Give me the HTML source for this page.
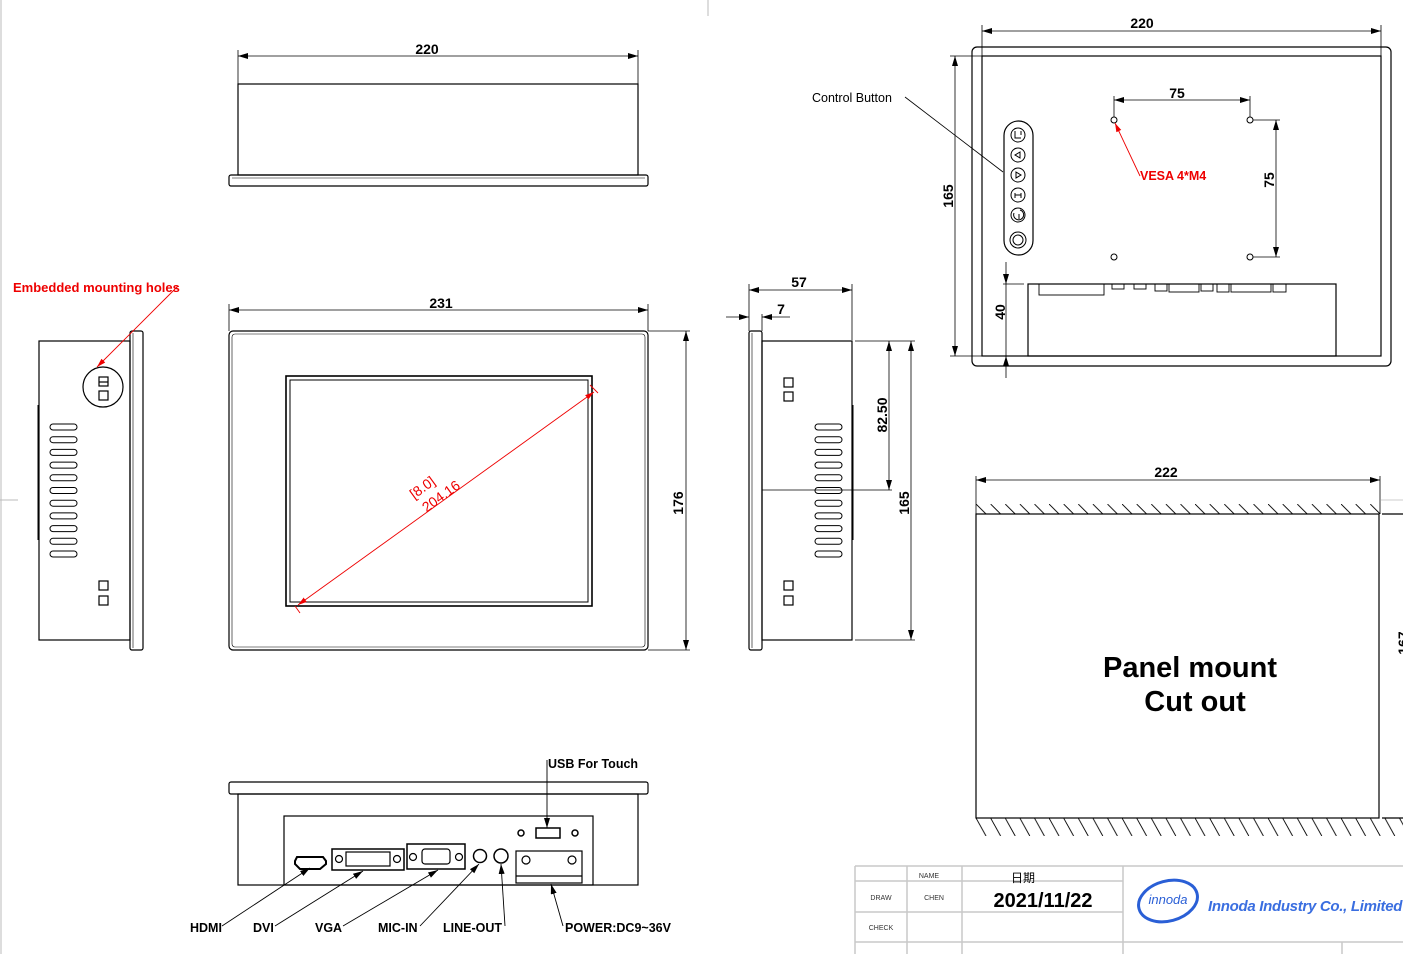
<!DOCTYPE html>
<html><head><meta charset="utf-8"><style>
html,body{margin:0;padding:0;background:#fff;}
svg{display:block;}
text{font-family:"Liberation Sans",Arial,sans-serif;}
</style></head><body>
<svg width="1403" height="954" viewBox="0 0 1403 954" xmlns="http://www.w3.org/2000/svg">
<defs>
<marker id="a" viewBox="0 0 10 6" refX="10" refY="3" markerWidth="10" markerHeight="6" orient="auto-start-reverse" markerUnits="userSpaceOnUse"><path d="M0,0 L10,3 L0,6 z" fill="#000"/></marker>
<marker id="r" viewBox="0 0 10 6" refX="10" refY="3" markerWidth="9" markerHeight="6" orient="auto-start-reverse" markerUnits="userSpaceOnUse"><path d="M0,0 L10,3 L0,6 z" fill="#e00"/></marker>
<pattern id="h1" patternUnits="userSpaceOnUse" x="976" y="504" width="14.6" height="10"><line x1="0" y1="0" x2="10" y2="10" stroke="#000" stroke-width="0.9"/></pattern>
<pattern id="h2" patternUnits="userSpaceOnUse" x="976" y="818" width="14.6" height="18"><line x1="0" y1="0" x2="10" y2="18" stroke="#000" stroke-width="0.9"/></pattern>
<g id="slots" fill="none" stroke="#000" stroke-width="1">
<rect x="0" y="0" width="27" height="6" rx="3"/><rect x="0" y="12.7" width="27" height="6" rx="3"/><rect x="0" y="25.4" width="27" height="6" rx="3"/><rect x="0" y="38.1" width="27" height="6" rx="3"/><rect x="0" y="50.8" width="27" height="6" rx="3"/><rect x="0" y="63.5" width="27" height="6" rx="3"/><rect x="0" y="76.2" width="27" height="6" rx="3"/><rect x="0" y="88.9" width="27" height="6" rx="3"/><rect x="0" y="101.6" width="27" height="6" rx="3"/><rect x="0" y="114.3" width="27" height="6" rx="3"/><rect x="0" y="127" width="27" height="6" rx="3"/>
</g>
</defs>
<g stroke="#bbb" stroke-width="1"><line x1="1" y1="0" x2="1" y2="954"/><line x1="708" y1="0" x2="708" y2="16"/><line x1="0" y1="500" x2="18" y2="500"/></g>

<g fill="none" stroke="#000" stroke-width="1.2">
<line x1="238" y1="50" x2="238" y2="84" stroke-width="0.8"/><line x1="638" y1="50" x2="638" y2="84" stroke-width="0.8"/>
<line x1="238" y1="56" x2="638" y2="56" stroke-width="0.8" marker-start="url(#a)" marker-end="url(#a)"/>
<rect x="238" y="84" width="400" height="91"/>
<rect x="229" y="175" width="419" height="11" rx="2"/>
<line x1="232" y1="178" x2="645" y2="178" stroke-width="0.6"/>

<line x1="229" y1="304" x2="229" y2="331" stroke-width="0.8"/><line x1="648" y1="304" x2="648" y2="331" stroke-width="0.8"/>
<line x1="229" y1="310" x2="648" y2="310" stroke-width="0.8" marker-start="url(#a)" marker-end="url(#a)"/>
<rect x="229" y="331" width="419" height="319" rx="4"/>
<rect x="232" y="334" width="413" height="313" rx="3" stroke-width="0.6"/>
<rect x="286" y="376" width="306" height="230" stroke-width="1.6"/>
<rect x="290" y="380" width="298" height="222" stroke-width="1"/>
<line x1="648" y1="331" x2="690" y2="331" stroke-width="0.8"/><line x1="648" y1="650" x2="690" y2="650" stroke-width="0.8"/>
<line x1="686" y1="331" x2="686" y2="650" stroke-width="0.8" marker-start="url(#a)" marker-end="url(#a)"/>

<rect x="39" y="341" width="91" height="299"/>
<rect x="130" y="331" width="13" height="319" rx="2"/>
<line x1="133" y1="333" x2="133" y2="648" stroke-width="0.6"/>
<line x1="38" y1="405" x2="38" y2="540" stroke-width="1"/>
<circle cx="103" cy="387" r="20"/>
<rect x="99" y="377" width="9" height="9"/><line x1="99" y1="382" x2="108" y2="382"/>
<rect x="99" y="391" width="9" height="9"/>
<rect x="99" y="581" width="9" height="9"/><rect x="99" y="596" width="9" height="9"/>
<use href="#slots" x="50" y="424"/>

<line x1="749" y1="284" x2="749" y2="331" stroke-width="0.8"/><line x1="852" y1="284" x2="852" y2="340" stroke-width="0.8"/>
<line x1="749" y1="290" x2="852" y2="290" stroke-width="0.8" marker-start="url(#a)" marker-end="url(#a)"/>
<line x1="726" y1="317" x2="749" y2="317" stroke-width="0.8" marker-end="url(#a)"/>
<line x1="790" y1="317" x2="762" y2="317" stroke-width="0.8" marker-end="url(#a)"/>
<line x1="762" y1="314" x2="762" y2="331" stroke-width="0.8"/>
<rect x="749" y="331" width="13" height="319" rx="2"/>
<line x1="752" y1="333" x2="752" y2="648" stroke-width="0.6"/>
<rect x="762" y="341" width="90" height="299"/>
<line x1="853" y1="405" x2="853" y2="540" stroke-width="1"/>
<rect x="784" y="378" width="9" height="9"/><rect x="784" y="392" width="9" height="9"/>
<rect x="784" y="581" width="9" height="9"/><rect x="784" y="596" width="9" height="9"/>
<use href="#slots" x="815" y="424"/>
<line x1="762" y1="490" x2="892" y2="490" stroke-width="0.8"/>
<line x1="855" y1="341" x2="915" y2="341" stroke-width="0.8"/><line x1="855" y1="640" x2="915" y2="640" stroke-width="0.8"/>
<line x1="889" y1="341" x2="889" y2="490" stroke-width="0.8" marker-start="url(#a)" marker-end="url(#a)"/>
<line x1="911" y1="341" x2="911" y2="640" stroke-width="0.8" marker-start="url(#a)" marker-end="url(#a)"/>

<line x1="982" y1="25" x2="982" y2="56" stroke-width="0.8"/><line x1="1381" y1="25" x2="1381" y2="56" stroke-width="0.8"/>
<line x1="982" y1="31" x2="1381" y2="31" stroke-width="0.8" marker-start="url(#a)" marker-end="url(#a)"/>
<rect x="972" y="47" width="419" height="319" rx="5"/>
<rect x="982" y="56" width="399" height="300"/>
<line x1="950" y1="56" x2="982" y2="56" stroke-width="0.8"/><line x1="950" y1="356" x2="982" y2="356" stroke-width="0.8"/>
<line x1="955" y1="56" x2="955" y2="356" stroke-width="0.8" marker-start="url(#a)" marker-end="url(#a)"/>
<rect x="1004" y="121" width="29" height="134" rx="14.5"/>
<g stroke-width="1"><circle cx="1018" cy="135" r="7"/><circle cx="1018" cy="155" r="7"/><circle cx="1018" cy="175" r="7"/><circle cx="1018" cy="195" r="7"/><circle cx="1018" cy="215" r="7"/><circle cx="1018" cy="240" r="8"/><circle cx="1018" cy="240" r="5"/>
<path d="M1020,152 L1015,155 L1020,158 z M1016,172 L1021,175 L1016,178 z M1015,193 L1015,198 M1021,193 L1021,198 M1015,195 L1021,195"/>
<path d="M1015,131 L1015,138 L1021,138 M1021,131 L1021,135" /><path d="M1014,213 A5,5 0 1 0 1020,210 M1019,214 L1019,219"/></g>
<line x1="905" y1="97" x2="1003" y2="172" stroke-width="0.8"/>
<g stroke-width="1"><circle cx="1114" cy="120" r="3"/><circle cx="1250" cy="120" r="3"/><circle cx="1114" cy="257" r="3"/><circle cx="1250" cy="257" r="3"/></g>
<line x1="1114" y1="96" x2="1114" y2="117" stroke-width="0.8"/><line x1="1250" y1="96" x2="1250" y2="117" stroke-width="0.8"/>
<line x1="1114" y1="100" x2="1250" y2="100" stroke-width="0.8" marker-start="url(#a)" marker-end="url(#a)"/>
<line x1="1253" y1="120" x2="1280" y2="120" stroke-width="0.8"/><line x1="1253" y1="257" x2="1280" y2="257" stroke-width="0.8"/>
<line x1="1276" y1="120" x2="1276" y2="257" stroke-width="0.8" marker-start="url(#a)" marker-end="url(#a)"/>
<rect x="1028" y="284" width="308" height="72"/>
<g stroke-width="0.9"><rect x="1039" y="284" width="65" height="11"/><rect x="1112" y="284" width="12" height="5"/><rect x="1134" y="284" width="12" height="5"/><rect x="1155" y="284" width="12" height="7"/><rect x="1169" y="284" width="30" height="8"/><rect x="1201" y="284" width="12" height="7"/><rect x="1217" y="284" width="12" height="8"/><rect x="1231" y="284" width="40" height="8"/><rect x="1273" y="284" width="13" height="8"/></g>
<line x1="1003" y1="284" x2="1024" y2="284" stroke-width="0.8"/>
<line x1="1006" y1="262" x2="1006" y2="284" stroke-width="0.8" marker-end="url(#a)"/>
<line x1="1006" y1="378" x2="1006" y2="356" stroke-width="0.8" marker-end="url(#a)"/>
<line x1="1006" y1="284" x2="1006" y2="356" stroke-width="0.8"/>

<line x1="976" y1="476" x2="976" y2="514" stroke-width="0.8"/><line x1="1380" y1="476" x2="1380" y2="514" stroke-width="0.8"/>
<line x1="976" y1="480" x2="1380" y2="480" stroke-width="0.8" marker-start="url(#a)" marker-end="url(#a)"/>
<rect x="976" y="514" width="403" height="304"/>
<line x1="1382" y1="514" x2="1403" y2="514"/><line x1="1382" y1="818" x2="1403" y2="818"/>
<line x1="1380" y1="500" x2="1403" y2="500" stroke="#999" stroke-width="0.6"/>

<rect x="229" y="782" width="419" height="12" rx="2"/>
<rect x="238" y="794" width="400" height="91"/>
<rect x="284" y="816" width="309" height="69"/>
<path d="M297,857 L323,857 L326,861 L326,864 L320,869 L300,869 L295,864 L295,861 z" stroke-width="2"/>
<rect x="332" y="849" width="72" height="21" stroke-width="1.5"/><rect x="346" y="852" width="44" height="14"/>
<circle cx="339" cy="859" r="3.5"/><circle cx="397" cy="859" r="3.5"/>
<rect x="407" y="844" width="58" height="25" stroke-width="1.5"/><rect x="422" y="849" width="28" height="15" rx="3"/>
<circle cx="413" cy="857" r="3.5"/><circle cx="459" cy="857" r="3.5"/>
<circle cx="480" cy="856" r="6.5" stroke-width="1.5"/><circle cx="501" cy="856" r="7" stroke-width="1.5"/>
<circle cx="521" cy="833" r="3" stroke-width="1.5"/><circle cx="575" cy="833" r="3" stroke-width="1.5"/>
<rect x="536" y="828" width="24" height="10" stroke-width="1.5"/>
<rect x="516" y="851" width="66" height="32"/><line x1="516" y1="876" x2="582" y2="876"/>
<circle cx="526" cy="860" r="4"/><circle cx="572" cy="860" r="4"/>
<g stroke-width="0.9">
<line x1="547" y1="760" x2="547" y2="828" marker-end="url(#a)"/>
<line x1="222" y1="926" x2="310" y2="868" marker-end="url(#a)"/>
<line x1="275" y1="926" x2="363" y2="871" marker-end="url(#a)"/>
<line x1="343" y1="926" x2="438" y2="870" marker-end="url(#a)"/>
<line x1="420" y1="926" x2="479" y2="864" marker-end="url(#a)"/>
<line x1="505" y1="926" x2="501" y2="864" marker-end="url(#a)"/>
<line x1="563" y1="926" x2="551" y2="884" marker-end="url(#a)"/>
</g>
</g>
<rect x="976" y="504" width="405" height="10" fill="url(#h1)"/>
<rect x="976" y="818" width="427" height="18" fill="url(#h2)"/>

<g stroke="#e00" fill="none" stroke-width="0.9">
<line x1="298" y1="605" x2="594" y2="392" marker-start="url(#r)" marker-end="url(#r)"/>
<line x1="295" y1="606" x2="300" y2="613"/><line x1="590" y1="385" x2="598" y2="393"/>
<line x1="178" y1="286" x2="97" y2="367" marker-end="url(#r)"/>
<line x1="1140" y1="176" x2="1115" y2="123" marker-end="url(#r)"/>
</g>
<g font-weight="bold" fill="#000">
<text x="427" y="54" font-size="14" text-anchor="middle">220</text>
<text x="441" y="308" font-size="14" text-anchor="middle">231</text>
<text x="683" y="503" font-size="14" text-anchor="middle" transform="rotate(-90 683 503)">176</text>
<text x="799" y="287" font-size="14" text-anchor="middle">57</text>
<text x="781" y="314" font-size="14" text-anchor="middle">7</text>
<text x="887" y="415" font-size="14" text-anchor="middle" transform="rotate(-90 887 415)">82.50</text>
<text x="909" y="503" font-size="14" text-anchor="middle" transform="rotate(-90 909 503)">165</text>
<text x="1142" y="28" font-size="14" text-anchor="middle">220</text>
<text x="953" y="196" font-size="14" text-anchor="middle" transform="rotate(-90 953 196)">165</text>
<text x="1177" y="98" font-size="14" text-anchor="middle">75</text>
<text x="1274" y="180" font-size="14" text-anchor="middle" transform="rotate(-90 1274 180)">75</text>
<text x="1005" y="312" font-size="14" text-anchor="middle" transform="rotate(-90 1005 312)">40</text>
<text x="1166" y="477" font-size="14" text-anchor="middle">222</text>
<text x="1408" y="643" font-size="14" text-anchor="middle" transform="rotate(-90 1408 643)">167</text>
<text x="1190" y="677" font-size="29" text-anchor="middle">Panel mount</text>
<text x="1195" y="711" font-size="29" text-anchor="middle">Cut out</text>
<g font-size="12.5"><text x="190" y="932">HDMI</text><text x="253" y="932">DVI</text><text x="315" y="932">VGA</text><text x="378" y="932">MIC-IN</text><text x="443" y="932">LINE-OUT</text><text x="565" y="932">POWER:DC9~36V</text><text x="548" y="768">USB For Touch</text></g>
<text x="812" y="102" font-size="12.5" font-weight="normal">Control Button</text>
</g>
<g fill="#e00" font-weight="bold">
<text x="13" y="292" font-size="13">Embedded mounting holes</text>
<text x="1140" y="180" font-size="12.5">VESA 4*M4</text>
<g transform="translate(440,488) rotate(-36)" font-size="14" font-weight="normal" text-anchor="middle"><text x="-14" y="-6">[8.0]</text><text x="-4" y="12">204.16</text></g>
</g>

<g stroke="#c8c8c8" stroke-width="1.5" fill="none">
<line x1="855" y1="866" x2="1403" y2="866"/><line x1="855" y1="942" x2="1403" y2="942"/>
<line x1="855" y1="881" x2="1123" y2="881"/><line x1="855" y1="912" x2="1123" y2="912"/>
<line x1="855" y1="866" x2="855" y2="954"/><line x1="907" y1="866" x2="907" y2="954"/><line x1="962" y1="866" x2="962" y2="954"/><line x1="1123" y1="866" x2="1123" y2="954"/><line x1="1342" y1="942" x2="1342" y2="954"/>
</g>
<g font-size="7" fill="#333" text-anchor="middle"><text x="929" y="878">NAME</text><text x="881" y="900">DRAW</text><text x="934" y="900">CHEN</text><text x="881" y="930">CHECK</text></g>
<text x="1023" y="882" font-size="12" text-anchor="middle" font-family="'Liberation Sans','Noto Sans CJK SC',sans-serif">日期</text>
<text x="1043" y="907" font-size="20" font-weight="bold" text-anchor="middle">2021/11/22</text>
<ellipse cx="1168" cy="901" rx="30" ry="20" fill="none" stroke="#2a5fd6" stroke-width="3" transform="rotate(-15 1168 901)"/>
<text x="1168" y="904" font-size="13" font-style="italic" fill="#2a5fd6" text-anchor="middle" font-family="'Liberation Serif',serif">innoda</text>
<text x="1208" y="911" font-size="15" font-style="italic" font-weight="bold" fill="#3a6ee0" letter-spacing="-0.3">Innoda Industry Co., Limited</text>
</svg>
</body></html>
